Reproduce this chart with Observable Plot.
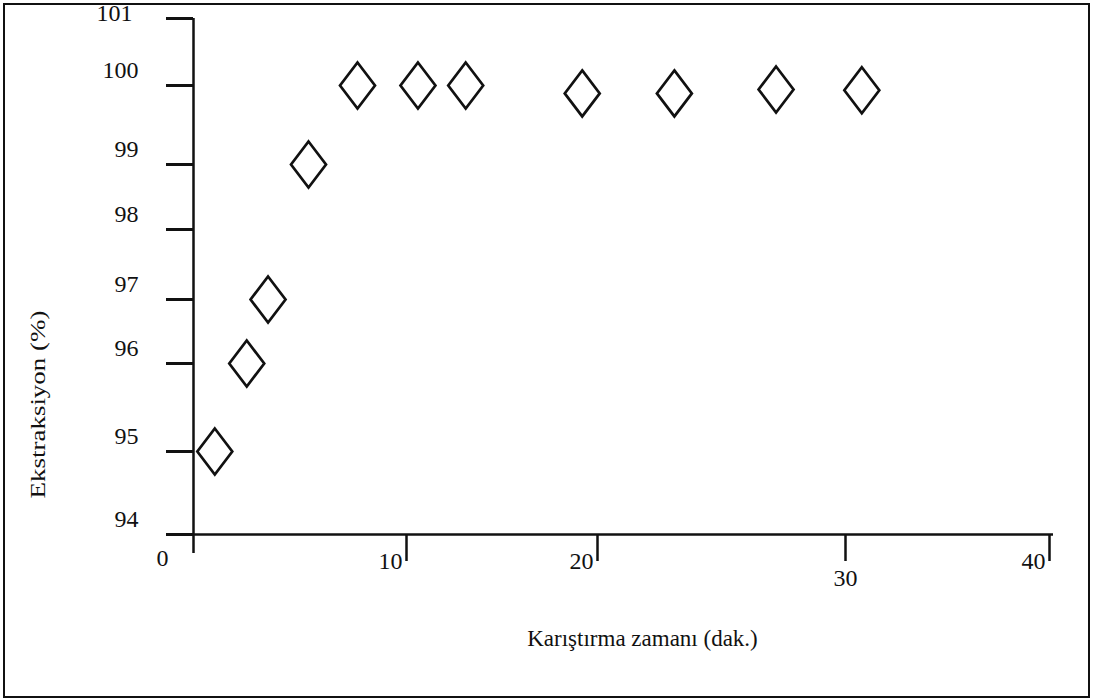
<!DOCTYPE html>
<html><head><meta charset="utf-8">
<script src="https://cdn.jsdelivr.net/npm/d3@7"></script>
<script src="https://cdn.jsdelivr.net/npm/@observablehq/plot@0.6"></script>
<style>
body{margin:0;background:#fff;}
#wrap{position:relative;width:1094px;height:699px;overflow:hidden;background:#fff;}
#chart{position:absolute;left:0;top:0;}
#border{position:absolute;left:3px;top:3px;width:1083px;height:691px;border:2.5px solid #111;pointer-events:none;}
</style></head><body>
<div id="wrap"><div id="chart"></div><div id="border"></div></div>
<script>
// Data
const mixTime    = [1, 2.5, 3.5, 5.4, 7.7, 10.6, 13.1, 19.2, 23.1, 27.2, 30.8];
const extraction = [95, 96, 97, 99, 100, 100, 100, 99.9, 99.9, 99.95, 99.94];
const xTicks = [0, 10, 20, 30, 40];
const yTicks = [94, 95, 96, 97, 98, 99, 100, 101];
const xTitle = "Karıştırma zamanı (dak.)";
const yTitle = "Ekstraksiyon (%)";

const points = mixTime.map((t, i) => ({time: t, ext: extraction[i]}));

// tall diamond symbol (width/height ≈ 0.76)
const tallDiamond = {
  draw(ctx, size) {
    const b = Math.sqrt(size / 1.52), a = 0.76 * b;
    ctx.moveTo(0, -b); ctx.lineTo(a, 0); ctx.lineTo(0, b); ctx.lineTo(-a, 0); ctx.closePath();
  }
};

const ink = "#111";
const serif = "'Liberation Serif', 'Times New Roman', serif";
const fmt = d => String(d);
const blank = () => "";
const fs = 24;
const chart = Plot.plot({
  width: 1094, height: 699,
  marginLeft: 193, marginRight: 45, marginTop: 18, marginBottom: 165,
  style: {fontFamily: serif, background: "transparent", color: ink},
  x: {type: "linear", domain: xTicks, range: [193, 406, 597, 845, 1049]},
  y: {type: "linear", domain: yTicks, range: [534, 451, 363, 299, 229, 164, 85, 18]},
  marks: [
    // axis lines
    Plot.ruleX([0], {stroke: ink, strokeWidth: 2.5, insetBottom: -19}),
    Plot.ruleY([94], {stroke: ink, strokeWidth: 2.5, insetLeft: -18, insetRight: -4}),
    // y ticks + labels
    Plot.axisY({ticks: yTicks, anchor: "left", tickSize: 27, tickFormat: blank, stroke: ink, strokeWidth: 3, label: null}),
    Plot.axisY({ticks: yTicks.filter(d => d < 101), anchor: "left", tickSize: 0, tickPadding: 55, dy: -15, textAnchor: "end", tickFormat: fmt, fontSize: fs, fontFamily: serif, fill: ink, label: null}),
    Plot.axisY({ticks: [101], anchor: "left", tickSize: 0, tickPadding: 61, dy: -5, textAnchor: "end", tickFormat: fmt, fontSize: fs, fontFamily: serif, fill: ink, label: null}),
    // x ticks
    Plot.axisX({ticks: xTicks.filter(d => d > 0), anchor: "bottom", tickSize: 27, tickFormat: blank, stroke: ink, strokeWidth: 2.5, label: null}),
    // x labels
    Plot.axisX({ticks: [10, 20, 40], anchor: "bottom", tickSize: 0, tickPadding: 17, dx: -4, textAnchor: "end", tickFormat: fmt, fontSize: fs, fontFamily: serif, fill: ink, label: null}),
    Plot.axisX({ticks: [30], anchor: "bottom", tickSize: 0, tickPadding: 34, textAnchor: "middle", tickFormat: fmt, fontSize: fs, fontFamily: serif, fill: ink, label: null}),
    Plot.axisX({ticks: [0], anchor: "bottom", tickSize: 0, tickPadding: 14, dx: -25, textAnchor: "end", tickFormat: fmt, fontSize: fs, fontFamily: serif, fill: ink, label: null}),
    // titles
    Plot.text([xTitle], {frameAnchor: "bottom", textAnchor: "middle", lineAnchor: "middle", dx: 21, dy: 104, fontSize: 23, fontFamily: serif, fill: ink}),
    Plot.text([yTitle], {frameAnchor: "left", textAnchor: "middle", lineAnchor: "middle", rotate: -90, dx: -155, dy: 128, fontSize: 21, fontFamily: serif, fill: ink}),
    // data
    Plot.dot(points, {x: "time", y: "ext", symbol: tallDiamond, r: 16, stroke: ink, strokeWidth: 2.7, fill: "none"})
  ]
});
document.getElementById("chart").appendChild(chart);
d3.select(chart).selectAll("text").filter(function() { return this.textContent === yTitle; })
  .attr("textLength", 188).attr("lengthAdjust", "spacingAndGlyphs");
</script>
</body></html>
